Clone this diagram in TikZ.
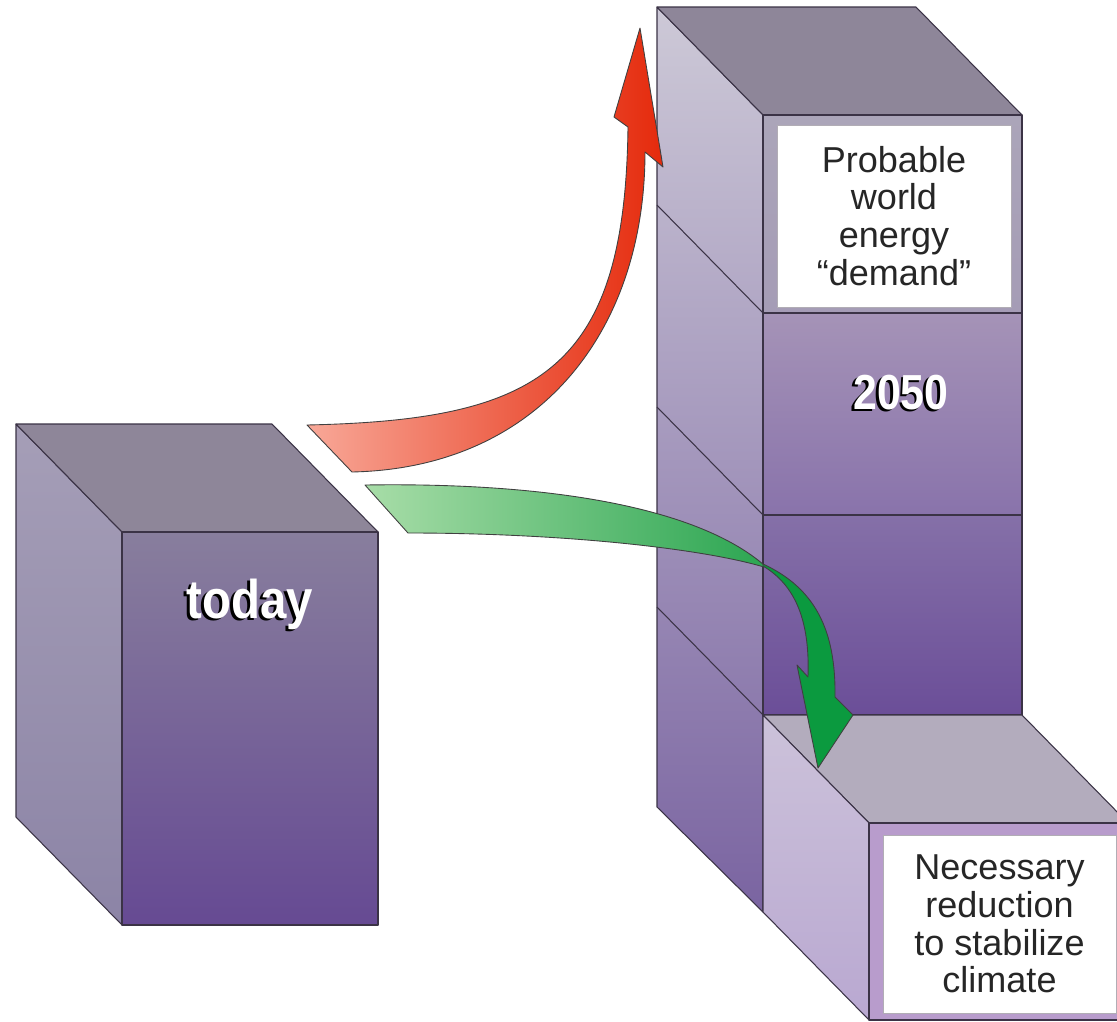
\documentclass[tikz,border=0pt]{standalone}
\usepackage{fontspec}
\setmainfont{Liberation Sans}
\newfontfamily\condbold{Liberation Sans Bold}[FakeStretch=0.87]
\usetikzlibrary{calc}

\definecolor{edgeDark}{HTML}{3B3346}
\definecolor{topGrey}{HTML}{8E8699}
\definecolor{todaySideTop}{HTML}{A59EB7}
\definecolor{todaySideBot}{HTML}{8C84A6}
\definecolor{frontTop}{HTML}{887E9D}
\definecolor{frontBot}{HTML}{664A93}
\definecolor{towerSideTop}{HTML}{CDC9D7}
\definecolor{towerSideBot}{HTML}{7A64A1}
\definecolor{frameTop}{HTML}{ABA5B9}
\definecolor{frameBot}{HTML}{A59CB6}
\definecolor{midTop}{HTML}{A593B7}
\definecolor{midBot}{HTML}{8973AB}
\definecolor{lowTop}{HTML}{8570A8}
\definecolor{lowBot}{HTML}{6B4E98}
\definecolor{stepTop}{HTML}{B3ACBD}
\definecolor{stepSideTop}{HTML}{CCC2DA}
\definecolor{stepSideBot}{HTML}{B9A8D1}
\definecolor{stepFrame}{HTML}{B89CCC}
\definecolor{redLight}{HTML}{F8A898}
\definecolor{redDark}{HTML}{E52A0C}
\definecolor{greenLight}{HTML}{A8DDA8}
\definecolor{greenMid}{HTML}{2CA652}
\definecolor{greenDark}{HTML}{0B9A3F}

% white word with a black copy just behind it, down and to the left
\newcommand\castword[1]{\makebox[0pt][l]{\kern-1.7pt\raisebox{-1.1pt}{\color{black}#1}}#1}

\begin{document}
\begin{tikzpicture}[x=0.02cm, y=-0.02cm,
  face/.style={draw=edgeDark, line width=0.6pt, line join=round},
  divider/.style={draw=edgeDark, line width=0.6pt},
  arrowline/.style={draw=black!75, line width=0.5pt, line join=round},
  tag/.style={fill=white, draw=edgeDark!40, line width=0.3pt, inner sep=0pt, align=center,
    text=black!85, font=\fontsize{20.5}{21.5}\selectfont},
  bigword/.style={text=white, inner sep=0pt, font=\condbold\fontsize{31}{31}\selectfont}
]
  \fill[white] (0,0) rectangle (1117,1022);
  \useasboundingbox (0,0) rectangle (1117,1022);
  \clip (0,0) rectangle (1117,1022);

  % today block
  \shade[face, top color=todaySideTop, bottom color=todaySideBot] (16,424) -- (122,532) -- (122,925) -- (16,817) -- cycle;
  \path[face, fill=topGrey] (16,424) -- (272,424) -- (378,532) -- (122,532) -- cycle;
  \shade[face, top color=frontTop, bottom color=frontBot] (122,532) rectangle (378,925);
  \node[bigword] (today) at (250,605) {\castword{today}};

  % 2050 tower, four equal layers
  \shade[face, top color=towerSideTop, bottom color=towerSideBot] (657,7) -- (763,115) -- (763,912) -- (657,807) -- cycle;
  \foreach \y in {313,515,715}
    \draw[divider] (657,\y-108) -- (763,\y);
  \path[face, fill=topGrey] (657,7) -- (916,7) -- (1022,115) -- (763,115) -- cycle;
  \shade[face, top color=frameTop, bottom color=frameBot] (763,115) rectangle (1022,313);
  \node[tag, minimum width=4.68cm, minimum height=3.64cm] (demand) at (894,216)
    {Probable\\world\\energy\\“demand”};
  \shade[face, top color=midTop, bottom color=midBot] (763,313) rectangle (1022,515);
  \node[bigword, font=\condbold\fontsize{28}{28}\selectfont] (year) at (901,394) {\castword{2050}};
  \shade[face, top color=lowTop, bottom color=lowBot] (763,515) rectangle (1022,715);

  % reduction step in front of the tower
  \path[face, fill=stepTop] (763,715) -- (1022,715) -- (1128,823) -- (869,823) -- cycle;
  \shade[face, top color=stepSideTop, bottom color=stepSideBot] (763,715) -- (869,823) -- (869,1020) -- (763,912) -- cycle;
  \path[face, fill=stepFrame] (869,823) rectangle (1128,1020);
  \node[tag, minimum width=4.66cm, minimum height=3.56cm] (reduction) at (999.5,924)
    {Necessary\\reduction\\to stabilize\\climate};

  % rising demand
  \shade[arrowline, left color=redLight, right color=redDark]
    (307,425) .. controls (540,420) and (625,370) .. (628,127)
    -- (614,117) -- (640,28) -- (663,167) -- (645,152)
    .. controls (645,330) and (540,468) .. (352,472) -- cycle;

  % cut back to the step
  \shade[arrowline, left color=greenLight, right color=greenMid]
    (365,485) .. controls (560,482) and (700,510) .. (764,565)
    -- (764,567) .. controls (700,548) and (560,533) .. (408,533) -- cycle;
  \path[arrowline, fill=greenDark]
    (763,564) .. controls (815,588) and (836,630) .. (835,697)
    -- (853,715) -- (818,768) -- (797,665) -- (808,677)
    .. controls (810,620) and (795,585) .. (763,566) -- cycle;
\end{tikzpicture}
\end{document}
